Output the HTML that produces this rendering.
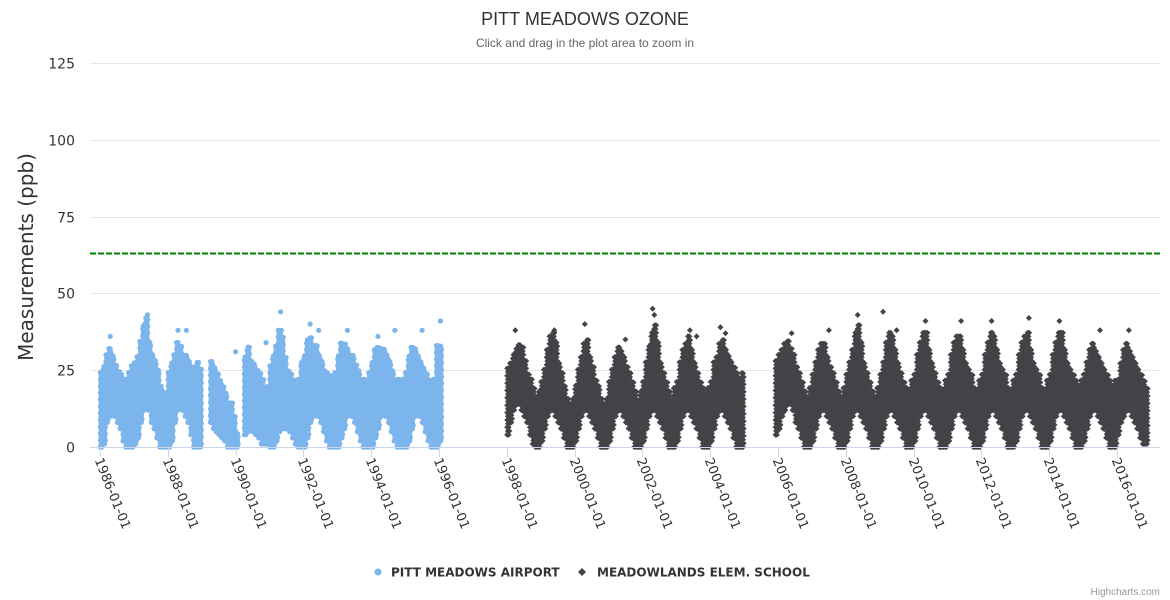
<!DOCTYPE html>
<html><head><meta charset="utf-8">
<style>
html,body{margin:0;padding:0;background:#fff;}
svg{display:block;font-family:"Liberation Sans","DejaVu Sans",sans-serif;}
</style></head>
<body>
<svg id="chart" width="1170" height="600" viewBox="0 0 1170 600">
  <rect x="0" y="0" width="1170" height="600" fill="#fff"/>
  <text x="585" y="25" text-anchor="middle" font-size="18" fill="#333">PITT MEADOWS OZONE</text>
  <text x="585" y="47" text-anchor="middle" font-size="12" fill="#666">Click and drag in the plot area to zoom in</text>
  <g id="grid"></g>
  <g id="yticks"></g>
  <text transform="translate(33,257) rotate(-90)" text-anchor="middle" font-size="20" fill="#333" font-family="'DejaVu Sans',sans-serif">Measurements (ppb)</text>
  <g id="s1"></g>
  <g id="s2"></g>
  <line id="thresh" x1="90" x2="1160" stroke="#008000" stroke-width="2" stroke-dasharray="6,2"/>
  <line x1="90" x2="1160" y1="447.5" y2="447.5" stroke="#ccd6eb" stroke-width="1"/>
  <g id="xticks"></g>
  <g font-family="'DejaVu Sans',sans-serif">
    <g>
      <circle cx="378" cy="572" r="3.5" fill="#7cb5ec"/>
      <text x="391" y="576.5" font-size="12" font-weight="bold" fill="#333">PITT MEADOWS AIRPORT</text>
    </g>
    <g>
      <path d="M582 568 L586 572 L582 576 L578 572 Z" fill="#434348"/>
      <text x="597" y="576.5" font-size="12" font-weight="bold" fill="#333">MEADOWLANDS ELEM. SCHOOL</text>
    </g>
  </g>
  <text x="1160" y="595" text-anchor="end" font-size="10" fill="#999">Highcharts.com</text>
</svg>
<script>
// ---- data ----
const yTicks = [0, 25, 50, 75, 100, 125];
const xTickYears = [1986,1988,1990,1992,1994,1996,1998,2000,2002,2004,2006,2008,2010,2012,2014,2016];
const threshold = 63;
const s1Years = [1986,1987,1988,1989,1990,1991,1992,1993,1994,1995,1996];
const s1Hi = [
 [25,27,30,33,30,27,25,24,22,22,25,27],
 [28,30,35,40,42,35,30,28,25,20,18,18],
 [25,28,30,35,33,30,30,28,27,25,28,26],
 [null,null,null,28,26,24,22,20,18,15,15,10],
 [5,null,null,30,33,28,27,25,24,22,18,20],
 [27,30,33,38,36,30,25,24,22,20,22,28],
 [30,35,36,34,33,30,28,25,25,24,22,25],
 [30,34,34,33,30,30,27,25,22,22,20,25],
 [28,32,33,33,32,30,28,25,22,22,20,22],
 [25,30,33,33,30,28,26,24,22,20,22,33],
 [33,null,null,null,null,null,null,null,null,null,null,null]
];
const s1Lo = [
 [0,1,8,10,12,10,8,6,2,0,0,0],
 [1,3,8,12,14,12,8,6,3,0,0,0],
 [0,2,8,12,14,12,10,8,4,0,0,0],
 [null,null,null,8,6,5,4,3,2,0,0,0],
 [0,null,null,4,5,6,5,4,3,1,1,1],
 [0,0,2,5,6,6,6,5,3,1,0,0],
 [0,3,8,10,12,10,8,5,2,0,0,0],
 [0,3,6,10,12,10,8,5,2,0,0,0],
 [0,3,6,10,12,10,8,5,2,0,0,0],
 [0,2,6,10,12,10,8,5,2,0,0,0],
 [2,null,null,null,null,null,null,null,null,null,null,null]
];
const s1OutDates = [1986.3,1987.35,1987.4,1988.3,1988.55,1990.0,1990.9,1991.33,1991.35,1992.2,1992.45,1993.3,1994.2,1994.7,1995.5,1996.04];
const s1OutVals = [36,42,43,38,38,31,34,44,38,40,38,38,36,38,38,41];

const s2Years = [1998,1999,2000,2001,2002,2003,2004,2005,2006,2007,2008,2009,2010,2011,2012,2013,2014,2015,2016];
const s2Hi = [
 [26,28,30,32,34,33,28,24,22,20,16,18],
 [22,26,32,36,38,34,28,24,20,16,14,16],
 [20,26,30,34,35,30,26,22,20,16,14,16],
 [22,26,30,33,32,30,26,24,22,18,15,18],
 [22,28,33,38,40,34,28,24,22,18,16,20],
 [22,28,32,34,36,32,28,24,22,20,18,20],
 [22,28,30,34,35,32,30,28,26,24,22,24],
 [null,null,null,null,null,null,null,null,null,null,null,28],
 [30,32,34,35,33,30,27,24,22,18,16,20],
 [24,28,32,34,34,30,26,24,22,18,16,20],
 [24,28,32,38,40,34,28,24,22,18,16,20],
 [24,28,34,38,36,32,28,24,22,20,18,22],
 [24,30,34,38,38,32,28,24,22,20,18,22],
 [24,30,34,36,36,32,28,26,24,20,18,22],
 [24,30,34,38,36,32,28,26,24,20,18,22],
 [24,30,34,36,38,32,28,26,24,20,18,22],
 [24,30,34,38,38,32,28,26,24,22,20,22],
 [24,28,32,34,32,30,28,26,24,22,20,22],
 [22,28,32,34,32,30,28,26,24,22,20,null]
];
const s2Lo = [
 [4,8,12,14,14,12,10,8,4,1,0,0],
 [2,6,10,12,12,10,8,6,3,0,0,0],
 [2,6,10,12,12,10,8,6,3,0,0,0],
 [2,6,10,12,12,10,8,6,3,0,0,0],
 [2,6,10,12,12,10,8,6,3,0,0,0],
 [2,6,10,12,12,10,8,6,3,0,0,0],
 [2,6,10,12,12,10,8,6,3,0,0,0],
 [null,null,null,null,null,null,null,null,null,null,null,4],
 [6,10,12,14,14,12,8,6,3,0,0,0],
 [2,6,10,12,12,10,8,6,3,0,0,0],
 [2,6,10,12,12,10,8,6,3,0,0,0],
 [2,6,10,12,12,10,8,6,3,0,0,0],
 [2,6,10,12,12,10,8,6,3,0,0,0],
 [2,6,10,12,12,10,8,6,3,0,0,0],
 [2,6,10,12,12,10,8,6,3,0,0,0],
 [2,6,10,12,12,10,8,6,3,0,0,0],
 [2,6,10,12,12,10,8,6,3,0,0,0],
 [2,6,10,12,12,10,8,6,3,0,0,0],
 [4,8,10,12,12,10,8,6,3,1,1,null]
];
const s2OutDates = [1998.25,1999.4,2000.3,2001.5,2002.3,2002.35,2003.4,2003.6,2004.3,2004.45,2006.4,2007.5,2008.35,2009.1,2009.5,2010.35,2011.4,2012.3,2013.4,2014.3,2015.5,2016.35];
const s2OutVals = [38,38,40,35,45,43,38,36,39,37,37,38,43,44,38,41,41,41,42,41,38,38];

// ---- axes ----
const X0 = 100, PX_PER_YEAR = 33.9;
const Y0 = 447, PX_PER_UNIT = 3.072;
function xScale(t){ return X0 + (t - 1986) * PX_PER_YEAR; }
function yScale(v){ return Y0 - v * PX_PER_UNIT; }

const NS = 'http://www.w3.org/2000/svg';
function mk(tag, attrs, parent){ const e = document.createElementNS(NS, tag); for (const k in attrs) e.setAttribute(k, attrs[k]); parent.appendChild(e); return e; }

const grid = document.getElementById('grid'), yt = document.getElementById('yticks');
yTicks.forEach(v => {
  const y = Math.round(yScale(v)) + 0.5;
  if (v > 0) {
    const l = mk('line', {x1:90, x2:1160, y1:y, y2:y, stroke:'#e6e6e6', 'stroke-width':1}, grid);
    
    
  }
  const t = mk('text', {x:75, y:y+5, 'text-anchor':'end', 'font-size':14, fill:'#333', 'font-family':"'DejaVu Sans',sans-serif"}, yt);
  t.textContent = v;
  
  
});
const thr = document.getElementById('thresh');
thr.setAttribute('y1', yScale(threshold)); thr.setAttribute('y2', yScale(threshold));

const xt = document.getElementById('xticks');
xTickYears.forEach(yr => {
  const x = Math.round(xScale(yr)) + 0.5;
  const tk = mk('line', {x1:x, x2:x, y1:447, y2:457, stroke:'#ccd6eb', 'stroke-width':1}, xt);
  
  
  const t = mk('text', {transform:'translate(' + (x-6) + ',460) rotate(68)', 'font-size':13, fill:'#333', 'font-family':"'DejaVu Sans',sans-serif"}, xt);
  t.textContent = yr + '-01-01';
  
  
});

function drawSeries(g, years, his, los, outD, outV, shape, color, step){
  const sub = 4;
  years.forEach((yr, i) => {
    for (let m = 0; m < 12; m++) {
      const hi = his[i][m], lo = los[i][m];
      if (hi === null || lo === null) continue;
      for (let k = 0; k < sub; k++) {
        const x = xScale(yr + (m + (k + 0.5) / sub) / 12);
        const off = (k % 2) * step / 2;
        for (let v = lo + off; v <= hi; v += step) {
          drawMark(g, x, yScale(v), shape, color);
        }
      }
    }
  });
  outD.forEach((d, i) => drawMark(g, xScale(d), yScale(outV[i]), shape, color));
}
function drawMark(g, x, y, shape, color){
  let e;
  if (shape === 'circle') {
    e = mk('circle', {cx:x.toFixed(1), cy:y.toFixed(1), r:2.6, fill:color}, g);
  } else {
    e = mk('path', {d:'M'+x.toFixed(1)+' '+(y-3).toFixed(1)+'l3 3l-3 3l-3 -3z', fill:color}, g);
  }
  
  
}
drawSeries(document.getElementById('s1'), s1Years, s1Hi, s1Lo, s1OutDates, s1OutVals, 'circle', '#7cb5ec', 2.2);
drawSeries(document.getElementById('s2'), s2Years, s2Hi, s2Lo, s2OutDates, s2OutVals, 'diamond', '#434348', 2.4);
</script>
</body></html>
